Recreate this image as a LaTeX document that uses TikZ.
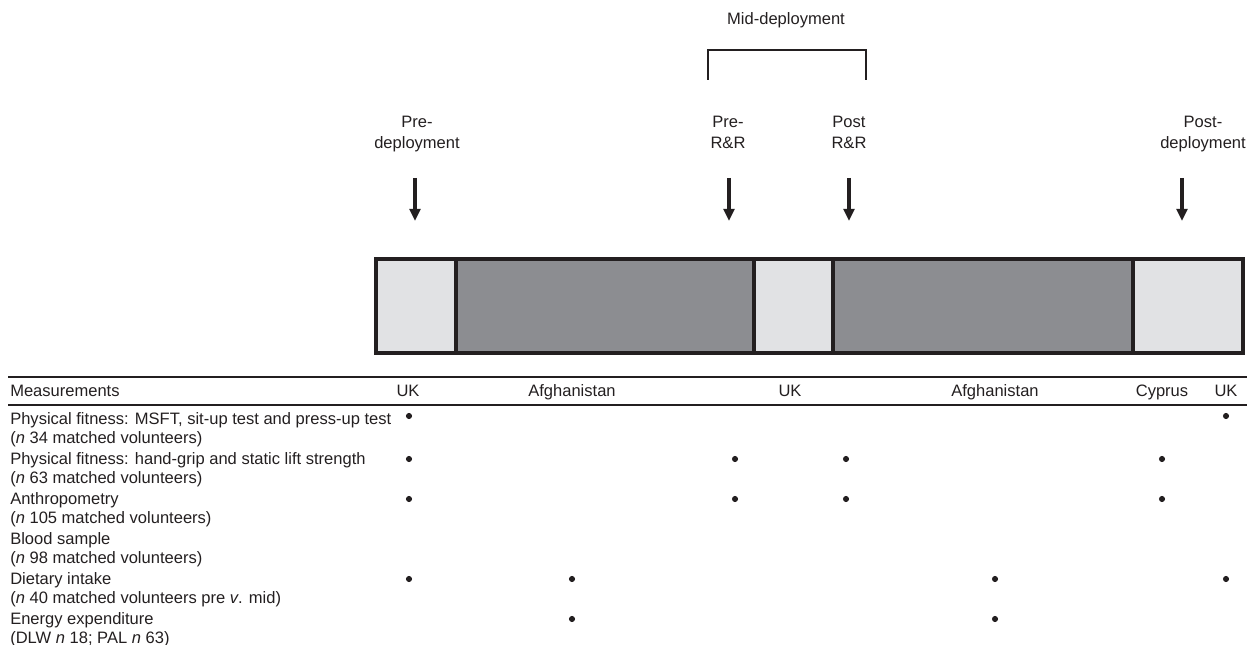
\documentclass[tikz,border=0pt]{standalone}
\usepackage{fontspec}
\setmainfont{Liberation Sans}
\usetikzlibrary{arrows.meta}
\definecolor{ink}{HTML}{231F20}
\definecolor{lightbar}{HTML}{E1E2E4}
\definecolor{darkbar}{HTML}{8C8D91}
\begin{document}
\begin{tikzpicture}[x=0.75pt,y=-0.75pt,
  every node/.style={text=ink, inner sep=0pt, font=\fontsize{12.4}{14.25}\selectfont},
  toplabel/.style={align=center, anchor=north, font=\fontsize{12.4}{15.75}\selectfont},
  headlabel/.style={anchor=base},
  rowlabel/.style={align=left, anchor=north west},
  marker/.style={-{Triangle[width=8pt,length=9pt]}, line width=2.5pt, draw=ink},
  dotmark/.style={circle, fill=ink, minimum size=4.6pt},
  barline/.style={draw=ink, line width=2.3pt},
  rule/.style={draw=ink, line width=1.1pt}]
\useasboundingbox (0,0) rectangle (1247,645);

% --- top labels
\node[headlabel] (mid) at (786,25) {Mid-deployment};
\coordinate (bl) at (708,80);
\coordinate (br) at (866,80);
\draw[draw=ink, line width=1.6pt] (bl) |- (866,50) -- (br);

\node[toplabel] (pre) at (417,116) {Pre-\\deployment};
\node[toplabel] (prerr) at (728,116) {Pre-\\R\&R};
\node[toplabel] (postrr) at (849,116) {Post\\R\&R};
\node[toplabel] (post) at (1203,116) {Post-\\deployment};

% arrows
\coordinate (a1s) at (415,178); \coordinate (a1e) at (415,221);
\coordinate (a2s) at (729,178); \coordinate (a2e) at (729,221);
\coordinate (a3s) at (849,178); \coordinate (a3e) at (849,221);
\coordinate (a4s) at (1182,178); \coordinate (a4e) at (1182,221);
\draw[marker] (a1s) -- (a1e);
\draw[marker] (a2s) -- (a2e);
\draw[marker] (a3s) -- (a3e);
\draw[marker] (a4s) -- (a4e);

% --- bar
\fill[lightbar] (376,259) rectangle (456,353);
\fill[darkbar] (456,259) rectangle (754,353);
\fill[lightbar] (754,259) rectangle (833,353);
\fill[darkbar] (833,259) rectangle (1133,353);
\fill[lightbar] (1133,259) rectangle (1243,353);
\draw[barline] (376,259) rectangle (1243,353);
\draw[barline] (456,259) -- (456,353);
\draw[barline] (754,259) -- (754,353);
\draw[barline] (833,259) -- (833,353);
\draw[barline] (1133,259) -- (1133,353);

% --- table rules
\coordinate (t1l) at (8,377); \coordinate (t1r) at (1247,377);
\coordinate (t2l) at (8,405); \coordinate (t2r) at (1247,405);
\draw[rule] (t1l) -- (t1r);
\draw[rule] (t2l) -- (t2r);

% header
\node[headlabel, anchor=base west] (hm) at (10,397) {Measurements};
\node[headlabel] (h1) at (408,397) {UK};
\node[headlabel] (h2) at (572,397) {Afghanistan};
\node[headlabel] (h3) at (790,397) {UK};
\node[headlabel] (h4) at (995,397) {Afghanistan};
\node[headlabel] (h5) at (1162,397) {Cyprus};
\node[headlabel] (h6) at (1226,397) {UK};

% rows
\node[rowlabel] (r1) at (10,412) {Physical fitness: MSFT, sit-up test and press-up test\\(\textit{n} 34 matched volunteers)};
\node[rowlabel] (r2) at (10,452) {Physical fitness: hand-grip and static lift strength\\(\textit{n} 63 matched volunteers)};
\node[rowlabel] (r3) at (10,492) {Anthropometry\\(\textit{n} 105 matched volunteers)};
\node[rowlabel] (r4) at (10,532) {Blood sample\\(\textit{n} 98 matched volunteers)};
\node[rowlabel] (r5) at (10,572) {Dietary intake\\(\textit{n} 40 matched volunteers pre \textit{v}. mid)};
\node[rowlabel] (r6) at (10,612) {Energy expenditure\\(DLW \textit{n} 18; PAL \textit{n} 63)};

% dots
\node[dotmark] (d11) at (409,416) {};
\node[dotmark] (d17) at (1226,416) {};
\node[dotmark] (d21) at (409,459) {};
\node[dotmark] (d23) at (735,459) {};
\node[dotmark] (d24) at (846,459) {};
\node[dotmark] (d26) at (1162,459) {};
\node[dotmark] (d31) at (409,499) {};
\node[dotmark] (d33) at (735,499) {};
\node[dotmark] (d34) at (846,499) {};
\node[dotmark] (d36) at (1162,499) {};
\node[dotmark] (d51) at (409,579) {};
\node[dotmark] (d52) at (572,579) {};
\node[dotmark] (d55) at (995,579) {};
\node[dotmark] (d57) at (1226,579) {};
\node[dotmark] (d62) at (572,619) {};
\node[dotmark] (d65) at (995,619) {};
\end{tikzpicture}
\end{document}
